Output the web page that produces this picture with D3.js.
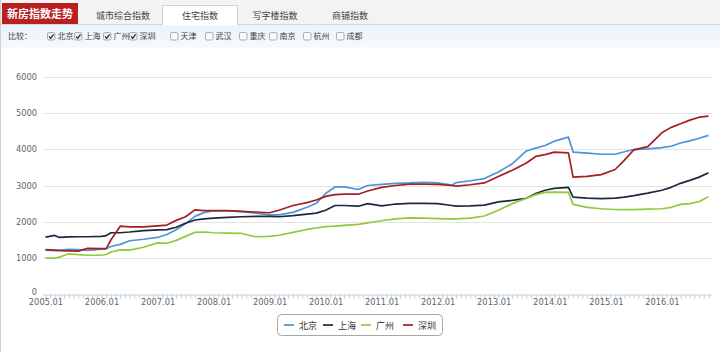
<!DOCTYPE html>
<html><head><meta charset="utf-8">
<script src="https://d3js.org/d3.v7.min.js"></script>
<style>
html,body{margin:0;padding:0;background:#fff;}
svg{display:block;}
</style></head>
<body><svg id="c" width="720" height="352"></svg>
<script>
const seriesNames = ["北京", "上海", "广州", "深圳"];
const seriesColors = ["#4d94d6", "#1b2a3c", "#92c83e", "#a41e22"];
const tabNames = ["城市综合指数", "住宅指数", "写字楼指数", "商铺指数"];
const cityNames = ["北京","上海","广州","深圳","天津","武汉","重庆","南京","杭州","成都"];
const cityChecked = [true,true,true,true,false,false,false,false,false,false];
const yTicks = [0,1000,2000,3000,4000,5000,6000];
const xTickLabels = ["2005.01","2006.01","2007.01","2008.01","2009.01","2010.01","2011.01","2012.01","2013.01","2014.01","2015.01","2016.01"];
const firstMonth = "2005.01", lastMonth = "2016.11";

const dates = ["2005.01","2005.03","2005.04","2005.06","2005.08","2005.10","2006.01","2006.02","2006.03","2006.05","2006.07","2006.10",
"2007.01","2007.03","2007.05","2007.07","2007.09","2007.11","2008.01","2008.04","2008.07","2008.10","2009.01","2009.03","2009.06","2009.09","2009.11",
"2010.01","2010.03","2010.05","2010.08","2010.10","2011.01","2011.04","2011.07","2011.10","2012.01","2012.04","2012.05","2012.08","2012.11",
"2013.02","2013.05","2013.08","2013.10","2013.12","2014.02","2014.05","2014.06","2014.09","2014.12","2015.03","2015.05","2015.07","2015.10",
"2016.01","2016.03","2016.05","2016.07","2016.09","2016.11"];

const beijing = [1220,1210,1220,1240,1235,1215,1245,1260,1320,1380,1480,1520,
1570,1650,1780,1950,2150,2260,2300,2300,2280,2240,2190,2190,2260,2400,2510,
2780,2960,2960,2890,3000,3030,3060,3070,3090,3070,3010,3080,3130,3190,
3370,3600,3950,4030,4100,4220,4330,3920,3890,3860,3860,3930,3990,4010,
4040,4080,4170,4230,4300,4380];
const shanghai = [1580,1625,1570,1585,1590,1590,1600,1620,1700,1700,1720,1760,
1780,1785,1850,1960,2050,2080,2100,2120,2140,2150,2150,2140,2170,2210,2240,
2320,2450,2450,2430,2500,2440,2490,2510,2510,2500,2450,2430,2440,2460,
2550,2590,2650,2780,2870,2920,2950,2680,2650,2640,2650,2680,2720,2790,
2870,2950,3060,3140,3230,3350];
const guangzhou = [1000,1000,1030,1120,1095,1080,1080,1100,1170,1230,1220,1300,
1420,1410,1490,1600,1710,1720,1700,1690,1680,1590,1600,1630,1710,1790,1830,
1870,1880,1900,1930,1970,2030,2080,2110,2100,2090,2080,2080,2100,2160,
2320,2500,2650,2750,2810,2820,2810,2480,2400,2360,2340,2335,2335,2350,
2360,2400,2480,2500,2560,2690];
const shenzhen = [1235,1220,1210,1200,1195,1270,1265,1265,1500,1880,1860,1860,
1890,1910,2040,2140,2330,2310,2310,2310,2290,2270,2250,2320,2450,2530,2600,
2700,2750,2760,2760,2850,2950,3000,3040,3040,3030,3000,2985,3020,3070,
3250,3420,3620,3800,3850,3920,3900,3230,3250,3300,3440,3700,3980,4070,
4450,4600,4700,4800,4880,4910];
const seriesValues = [beijing, shanghai, guangzhou, shenzhen];

const monthIndex = s => { const [y,m] = s.split(".").map(Number); return (y-2005)*12 + (m-1); };

const svg = d3.select("#c");
const W = 720, H = 352;
const fontCJK = "'Noto Sans CJK SC','Noto Sans',sans-serif";
const fontNum = "'DejaVu Sans',Verdana,sans-serif";

// defs
const defs = svg.append("defs");
const g1 = defs.append("linearGradient").attr("id","rowbg").attr("x1",0).attr("y1",0).attr("x2",0).attr("y2",1);
g1.append("stop").attr("offset","0%").attr("stop-color","#e9f2fb");
g1.append("stop").attr("offset","100%").attr("stop-color","#f7fafd");

// header tab bar
svg.append("rect").attr("x",0).attr("y",0).attr("width",W).attr("height",24).attr("fill","#f3f3f3");
svg.append("rect").attr("x",0).attr("y",24).attr("width",W).attr("height",24).attr("fill","url(#rowbg)");
svg.append("line").attr("x1",0).attr("x2",W).attr("y1",24.5).attr("y2",24.5).attr("stroke","#d9d9d9");
// red tab
svg.append("rect").attr("x",2).attr("y",3).attr("width",76).attr("height",21).attr("fill","#b8211f");
svg.append("text").attr("x",40).attr("y",17.5).attr("text-anchor","middle").attr("fill","#fff")
  .attr("font-family",fontCJK).attr("font-weight","bold").attr("font-size",11).text("新房指数走势");
// active tab
svg.append("path").attr("d","M162.5,25 V5.5 H237.5 V25").attr("fill","#fff").attr("stroke","#d0d0d0");
svg.append("rect").attr("x",163).attr("y",6).attr("width",74).attr("height",19.5).attr("fill","#fff");
const tabX = [123, 200, 275, 350];
tabNames.forEach((t,i)=>{
  svg.append("text").attr("x",tabX[i]).attr("y",18.5).attr("text-anchor","middle").attr("fill","#444")
    .attr("font-family",fontCJK).attr("font-size",9).text(t);
});

// compare row
svg.append("text").attr("x",8).attr("y",39.2).attr("fill","#444").attr("font-family",fontCJK).attr("font-size",8).text("比较：");
const boxX = [47, 74, 103, 129, 170, 205, 239, 269, 303, 336];
cityNames.forEach((c,i)=>{
  const bx = boxX[i], by = 32;
  svg.append("rect").attr("x",bx+0.5).attr("y",by+0.5).attr("width",7.5).attr("height",7.5).attr("rx",1.5)
    .attr("fill", cityChecked[i] ? "#f0f0f0" : "#fafafa").attr("stroke","#9a9a9a").attr("stroke-width",0.8);
  if (cityChecked[i]) {
    svg.append("path").attr("d",`M${bx+2.1},${by+4.4} L${bx+3.7},${by+6.3} L${bx+6.6},${by+2.3}`)
      .attr("fill","none").attr("stroke","#222").attr("stroke-width",1.2);
  }
  svg.append("text").attr("x",bx+10.5).attr("y",39.2).attr("fill","#444").attr("font-family",fontCJK)
    .attr("font-size",8).text(c);
});

// outer border
svg.append("line").attr("x1",0.5).attr("x2",0.5).attr("y1",0).attr("y2",H).attr("stroke","#d0d0d0");

// scales
const x = d3.scaleLinear().domain([monthIndex(firstMonth), monthIndex(lastMonth)]).range([45.5, 708.5]);
const y = d3.scaleLinear().domain([0,6000]).range([294.5, 76.5]);
const plotLeft = 43, plotRight = 712;

// gridlines
const grid = svg.append("g");
grid.selectAll("line").data(yTicks.filter(v=>v>0)).join("line")
  .attr("x1",plotLeft).attr("x2",plotRight).attr("y1",d=>Math.round(y(d))+0.5).attr("y2",d=>Math.round(y(d))+0.5)
  .attr("stroke","#e3e3e3").attr("stroke-width",1);

// y axis
const yAxis = svg.append("g").attr("transform",`translate(${plotLeft},0)`)
  .call(d3.axisLeft(y).tickValues(yTicks).tickSize(0).tickPadding(6).tickFormat(d3.format("d")));
yAxis.select(".domain").remove();
yAxis.selectAll("text").attr("font-family",fontNum).attr("font-size",8.3).attr("fill","#666");
yAxis.selectAll(".tick").filter(d=>d===0).select("text").attr("dy","0.05em");

// x axis
const labelSet = new Set(xTickLabels.map(monthIndex));
const allMonths = d3.range(monthIndex(firstMonth), monthIndex(lastMonth)+1);
const xAxis = svg.append("g").attr("transform",`translate(0,${y(0)})`)
  .call(d3.axisBottom(x).tickValues(allMonths).tickSize(4).tickPadding(1)
    .tickFormat(m => labelSet.has(m) ? xTickLabels[[...labelSet].indexOf(m)] : ""));
xAxis.select(".domain").attr("stroke","#c0d0e0").attr("d",`M${plotLeft},0.5H${plotRight}`);
xAxis.selectAll(".tick line").attr("stroke","#c0d0e0");
xAxis.selectAll("text").attr("font-family",fontNum).attr("font-size",8.3).attr("fill","#666");

// lines
const line = d3.line().x((d,i)=>x(monthIndex(dates[i]))).y(d=>y(d));
seriesValues.forEach((vals,k)=>{
  svg.append("path").datum(vals).attr("d",line).attr("fill","none")
    .attr("stroke",seriesColors[k]).attr("stroke-width",1.7).attr("stroke-linejoin","round");
});

// legend
svg.append("rect").attr("x",277.5).attr("y",314.5).attr("width",165).attr("height",21).attr("rx",4)
  .attr("fill","#fff").attr("stroke","#a8a8a8");
const legX = [284, 323, 361, 403];
seriesNames.forEach((n,i)=>{
  svg.append("line").attr("x1",legX[i]).attr("x2",legX[i]+10).attr("y1",325).attr("y2",325)
    .attr("stroke",seriesColors[i]).attr("stroke-width",1.7);
  svg.append("text").attr("x",legX[i]+15).attr("y",328.5).attr("fill","#333").attr("font-family",fontCJK)
    .attr("font-size",9).text(n);
});
</script>
</body></html>
